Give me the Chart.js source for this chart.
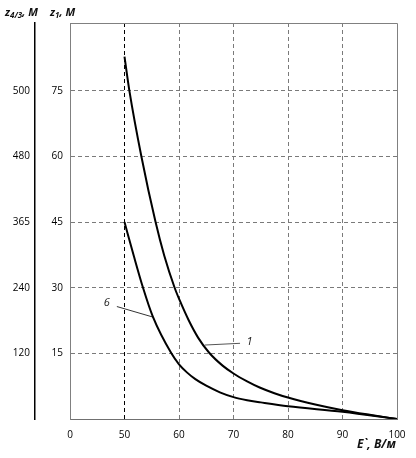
<!DOCTYPE html>
<html><head><meta charset="utf-8">
<script src="https://cdn.jsdelivr.net/npm/chart.js@4"></script>
<style>
html,body{margin:0;padding:0;background:#fff;}
#wrap{position:relative;width:416px;height:458px;overflow:hidden;}
canvas{position:absolute;left:0;top:0;}
.t{position:absolute;font-family:"Open Sans",sans-serif;font-weight:bold;font-style:italic;font-size:11px;color:#111;white-space:nowrap;line-height:1;}
.t sub{font-size:8px;vertical-align:-2px;line-height:1;}
</style></head><body>
<div id="wrap"><canvas id="c" width="416" height="458"></canvas>
<div class="t" style="left:5px;top:6px">z<sub>4/3</sub>, М</div>
<div class="t" style="left:50px;top:6px">z<sub>1</sub>, М</div>
<div class="t" style="left:357px;top:438px;font-size:12px">E`, В/м</div>
</div>
<script>
// ---- data ----
const xTickValues = [40, 50, 60, 70, 80, 90, 100];
const xTickLabels = ['0', '50', '60', '70', '80', '90', '100'];
const yTickValues = [15, 30, 45, 60, 75];
const z1TickLabels = ['15', '30', '45', '60', '75'];
const z43TickLabels = ['120', '240', '365', '480', '500'];

const curve1X = [50, 50.9, 53.1, 55.7, 57.3, 59.2, 60.1, 61.8, 63.5, 65.5, 68, 70, 72.5, 74.8, 77.5, 80, 85, 90, 95, 100];
const curve1Y = [82.8, 75, 60, 45, 37.3, 30, 27.2, 22.5, 18.6, 15.2, 12.2, 10.4, 8.6, 7.2, 5.9, 4.9, 3.3, 2.0, 0.95, 0];
const curve6X = [50, 51.7, 53.4, 55.2, 58.6, 60, 61.5, 63, 65, 67.5, 70, 72.5, 75, 80, 90, 100];
const curve6Y = [45, 37.3, 30, 23.4, 15, 12.5, 10.6, 9.1, 7.6, 6.1, 5.0, 4.3, 3.8, 2.9, 1.65, 0];

const leader1X = [64.7, 71.2];
const leader1Y = [16.9, 17.3];
const leader6X = [48.6, 55.2];
const leader6Y = [25.7, 23.3];
const curveLabels = ['1', '6'];
const curveLabelX = [72.4, 46.2];
const curveLabelY = [17.6, 26.6];

const pts = (xs, ys) => xs.map((v, i) => ({x: v, y: ys[i]}));

const boxPlugin = {
  id: 'box',
  afterDraw(chart) {
    const {ctx, chartArea: a, scales} = chart;
    ctx.save();
    ctx.strokeStyle = '#808080';
    ctx.lineWidth = 1;
    ctx.beginPath();
    ctx.moveTo(a.left, a.top + 0.5);
    ctx.lineTo(a.right + 0.5, a.top + 0.5);
    ctx.lineTo(a.right + 0.5, a.bottom);
    ctx.stroke();
    ctx.fillStyle = '#222';
    ctx.font = 'italic 11px "Open Sans", sans-serif';
    ctx.textAlign = 'left';
    ctx.textBaseline = 'middle';
    curveLabels.forEach((t, i) => {
      ctx.fillText(t, scales.x.getPixelForValue(curveLabelX[i]), scales.y.getPixelForValue(curveLabelY[i]));
    });
    ctx.restore();
  }
};

const tickFont = {family: '"Open Sans", sans-serif', size: 10};

new Chart(document.getElementById('c'), {
  type: 'line',
  data: {
    datasets: [
      {data: pts(curve1X, curve1Y), borderColor: '#000', borderWidth: 2, pointRadius: 0, cubicInterpolationMode: 'monotone', fill: false},
      {data: pts(curve6X, curve6Y), borderColor: '#000', borderWidth: 2, pointRadius: 0, cubicInterpolationMode: 'monotone', fill: false},
      {data: pts(leader1X, leader1Y), borderColor: '#555', borderWidth: 1, pointRadius: 0, tension: 0},
      {data: pts(leader6X, leader6Y), borderColor: '#333', borderWidth: 1, pointRadius: 0, tension: 0}
    ]
  },
  options: {
    responsive: false,
    animation: false,
    layout: {padding: {left: 13, top: 23, right: 19, bottom: 0}},
    plugins: {legend: {display: false}, tooltip: {enabled: false}},
    scales: {
      x: {
        type: 'linear', min: 40, max: 100,
        afterBuildTicks: s => { s.ticks = xTickValues.map(v => ({value: v})); },
        afterFit: s => { s.height = 39; },
        ticks: {
          font: tickFont, color: '#000', padding: 10, maxRotation: 0,
          callback: (v) => { const i = xTickValues.indexOf(v); return i >= 0 ? xTickLabels[i] : ''; }
        },
        grid: {
          drawTicks: false,
          color: c => {
            const v = c.tick ? c.tick.value : null;
            if (v === 50) return '#000';
            if (v === 40 || v === 100) return 'rgba(0,0,0,0)';
            return '#7a7a7a';
          }
        },
        border: {display: true, color: '#707070', width: 1, dash: [4, 3]}
      },
      y: {
        type: 'linear', position: 'left', weight: 0, min: 0, max: 90.5,
        afterBuildTicks: s => { s.ticks = yTickValues.map(v => ({value: v})); },
        afterFit: s => { s.width = 35; },
        ticks: {
          font: tickFont, color: '#000', padding: 7,
          callback: (v) => { const i = yTickValues.indexOf(v); return i >= 0 ? z1TickLabels[i] : ''; }
        },
        grid: {drawTicks: false, color: '#7a7a7a'},
        border: {display: true, color: '#808080', width: 1, dash: [4, 3]}
      },
      yOuter: {
        type: 'linear', position: 'left', weight: 10, min: 0, max: 90.5,
        afterBuildTicks: s => { s.ticks = yTickValues.map(v => ({value: v})); },
        afterFit: s => { s.width = 22; },
        ticks: {
          font: tickFont, color: '#000', padding: 5,
          callback: (v) => { const i = yTickValues.indexOf(v); return i >= 0 ? z43TickLabels[i] : ''; }
        },
        grid: {display: false, drawTicks: false, drawOnChartArea: false},
        border: {display: true, color: '#000', width: 1.5}
      }
    }
  },
  plugins: [boxPlugin]
});
</script>
</body></html>
